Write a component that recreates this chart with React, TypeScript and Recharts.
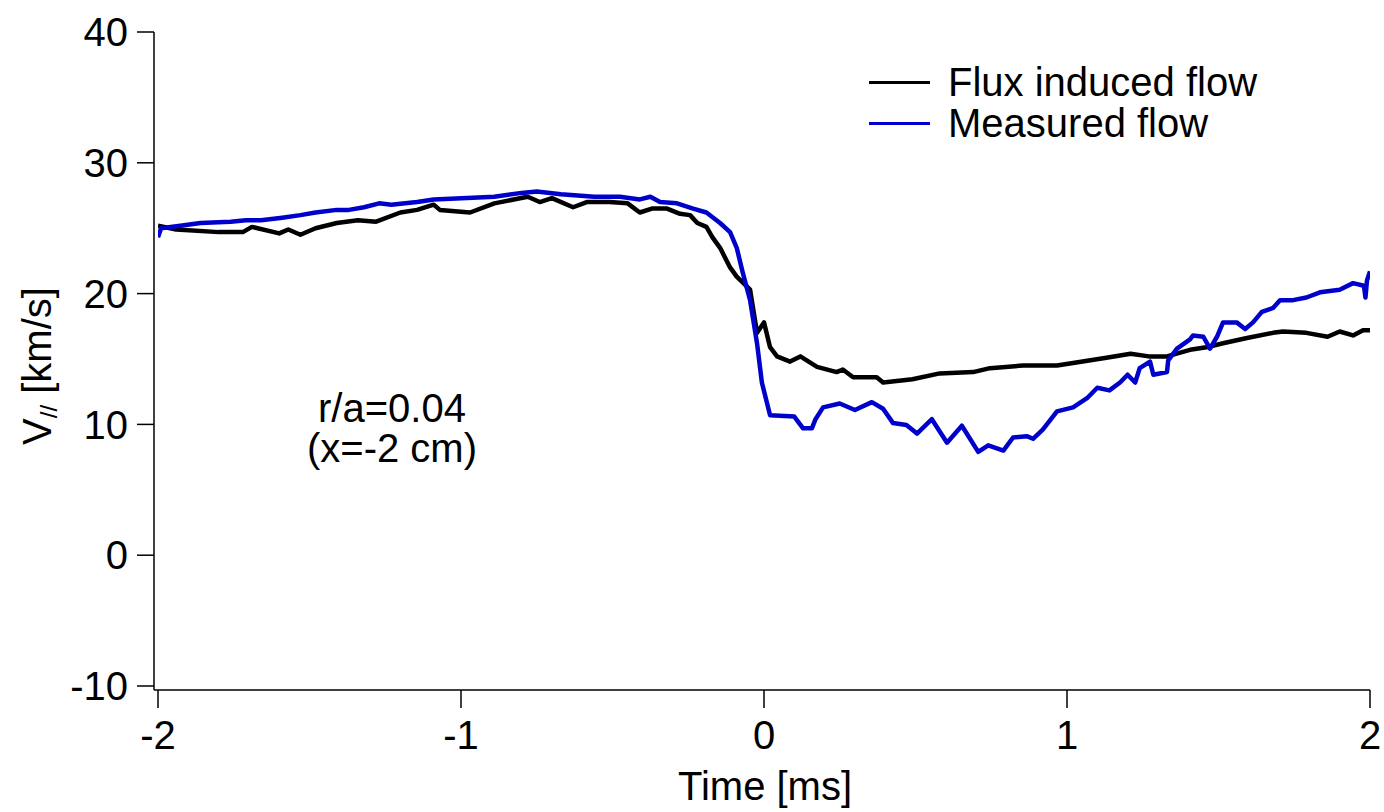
import { LineChart, Line, XAxis, YAxis } from 'recharts';

const FONT = '"Liberation Sans", Arial, Helvetica, sans-serif';

// Flux induced flow (black), time in ms, velocity in km/s
const fluxTime = [
  -2.0, -1.94, -1.8, -1.72, -1.69, -1.6, -1.57, -1.53, -1.48, -1.41, -1.34, -1.28, -1.2, -1.145,
  -1.09, -1.07, -0.97, -0.89, -0.78, -0.74, -0.7, -0.63, -0.585, -0.51, -0.45, -0.41, -0.37,
  -0.32, -0.277, -0.244, -0.22, -0.19, -0.17, -0.145, -0.112, -0.09, -0.046, -0.023, 0.0, 0.02,
  0.043, 0.086, 0.12, 0.175, 0.24, 0.26, 0.294, 0.372, 0.393, 0.49, 0.58, 0.69, 0.746, 0.855,
  0.967, 1.02, 1.13, 1.21, 1.27, 1.33, 1.406, 1.46, 1.515, 1.594, 1.68, 1.713, 1.79, 1.86, 1.9,
  1.944, 1.977, 2.0,
];
const fluxVel = [
  25.2, 24.9, 24.7, 24.7, 25.1, 24.6, 24.9, 24.5, 25.0, 25.4, 25.6, 25.5, 26.2, 26.4,
  26.8, 26.4, 26.2, 26.9, 27.4, 27.0, 27.3, 26.6, 27.0, 27.0, 26.9, 26.2, 26.5,
  26.5, 26.1, 26.0, 25.4, 25.1, 24.3, 23.5, 22.0, 21.3, 20.3, 17.0, 17.8, 15.9,
  15.2, 14.8, 15.2, 14.4, 14.0, 14.2, 13.6, 13.6, 13.2, 13.45, 13.9, 14.0, 14.3, 14.5,
  14.5, 14.7, 15.1, 15.4, 15.2, 15.2, 15.7, 15.9, 16.2, 16.6, 17.0, 17.1, 17.0, 16.7, 17.1,
  16.8, 17.2, 17.2,
];

// Measured flow (blue)
const measTime = [
  -2.0, -1.99, -1.92, -1.86, -1.76, -1.71, -1.66, -1.59, -1.53, -1.48, -1.41, -1.37, -1.32,
  -1.27, -1.23, -1.145, -1.09, -0.98, -0.89, -0.8, -0.75, -0.67, -0.56, -0.475, -0.41, -0.375,
  -0.343, -0.287, -0.234, -0.19, -0.145, -0.112, -0.09, -0.07, -0.046, -0.023, -0.007, 0.02,
  0.1, 0.129, 0.158, 0.17, 0.195, 0.25, 0.3, 0.356, 0.393, 0.426, 0.47, 0.505, 0.554, 0.604,
  0.653, 0.707, 0.74, 0.79, 0.822, 0.867, 0.888, 0.92, 0.967, 1.02, 1.066, 1.1, 1.14, 1.175,
  1.2, 1.225, 1.24, 1.274, 1.285, 1.33, 1.334, 1.363, 1.406, 1.416, 1.45, 1.472, 1.495, 1.515,
  1.56, 1.588, 1.614, 1.643, 1.68, 1.703, 1.746, 1.79, 1.835, 1.9, 1.944, 1.98, 1.985, 1.99, 2.0,
];
const measVel = [
  24.3, 25.0, 25.2, 25.4, 25.5, 25.6, 25.6, 25.8, 26.0, 26.2, 26.4, 26.4, 26.6,
  26.9, 26.8, 27.0, 27.2, 27.3, 27.4, 27.7, 27.8, 27.6, 27.4, 27.4, 27.2, 27.4,
  27.0, 26.9, 26.5, 26.2, 25.4, 24.7, 23.5, 21.6, 19.5, 16.2, 13.2, 10.7,
  10.6, 9.7, 9.7, 10.4, 11.3, 11.6, 11.1, 11.7, 11.2, 10.1, 9.95, 9.3, 10.4, 8.6,
  9.9, 7.9, 8.4, 8.0, 9.0, 9.1, 8.9, 9.6, 11.0, 11.3, 12.0, 12.8, 12.6, 13.2,
  13.8, 13.2, 14.3, 14.8, 13.8, 14.0, 14.9, 15.8, 16.5, 16.8, 16.7, 15.8, 16.7, 17.8,
  17.8, 17.3, 17.8, 18.6, 18.9, 19.5, 19.5, 19.7, 20.1, 20.3, 20.8, 20.6, 19.7, 21.0, 21.7,
];

const xTicks = [-2, -1, 0, 1, 2];
const yTicks = [-10, 0, 10, 20, 30, 40];

const seriesNames = ['Flux induced flow', 'Measured flow'];
const seriesColors = ['#000000', '#0000cc'];

const fluxData = fluxTime.map((t, i) => ({ t, v: fluxVel[i] }));
const measData = measTime.map((t, i) => ({ t, v: measVel[i] }));

const tickStyle = { fontFamily: FONT, fontSize: 40, fill: '#000' };

export default function App() {
  return (
    <div style={{ position: 'absolute', left: 0, top: 0, width: 1384, height: 812, fontFamily: FONT, color: '#000' }}>
      <LineChart width={1384} height={812} margin={{ top: 32, right: 14, left: 94, bottom: 62 }}>
        <XAxis
          type="number"
          dataKey="t"
          domain={[-2, 2]}
          ticks={xTicks}
          allowDataOverflow
          padding={{ left: 4, right: 0 }}
          height={60}
          tickSize={18}
          tickMargin={13}
          tick={tickStyle}
          axisLine={{ stroke: '#000', strokeWidth: 1.5 }}
          tickLine={{ stroke: '#000', strokeWidth: 1.5 }}
        />
        <YAxis
          type="number"
          dataKey="v"
          domain={[-10, 40]}
          ticks={yTicks}
          allowDataOverflow
          padding={{ top: 0, bottom: 4 }}
          width={60}
          tickSize={17}
          tickMargin={9}
          tick={tickStyle}
          axisLine={{ stroke: '#000', strokeWidth: 1.5 }}
          tickLine={{ stroke: '#000', strokeWidth: 1.5 }}
        />
        <Line
          data={fluxData}
          dataKey="v"
          name={seriesNames[0]}
          type="linear"
          stroke={seriesColors[0]}
          strokeWidth={4.5}
          strokeLinejoin="round"
          dot={false}
          isAnimationActive={false}
        />
        <Line
          data={measData}
          dataKey="v"
          name={seriesNames[1]}
          type="linear"
          stroke={seriesColors[1]}
          strokeWidth={4.5}
          strokeLinejoin="round"
          dot={false}
          isAnimationActive={false}
        />
      </LineChart>

      {/* legend */}
      <div style={{ position: 'absolute', left: 869, top: 62, fontSize: 40, lineHeight: '41px' }}>
        {seriesNames.map((name, i) => (
          <div key={name} style={{ display: 'flex', alignItems: 'center', whiteSpace: 'nowrap' }}>
            <span style={{ display: 'inline-block', width: 61, height: 3, background: seriesColors[i], marginRight: 18 }} />
            <span>{name}</span>
          </div>
        ))}
      </div>

      {/* y axis title */}
      <div
        style={{
          position: 'absolute', left: 40, top: 366, fontSize: 40, lineHeight: '40px', whiteSpace: 'nowrap',
          transform: 'translate(-50%, -50%) rotate(-90deg)',
        }}
      >
        V<span style={{ fontSize: 24, position: 'relative', top: 6 }}>//</span> [km/s]
      </div>

      {/* x axis title */}
      <div style={{ position: 'absolute', left: 765, top: 766, fontSize: 40, lineHeight: '40px', whiteSpace: 'nowrap', transform: 'translateX(-50%)' }}>
        Time [ms]
      </div>

      {/* annotation */}
      <div style={{ position: 'absolute', left: 392, top: 388, fontSize: 40, lineHeight: '40px', whiteSpace: 'nowrap', textAlign: 'center', transform: 'translateX(-50%)' }}>
        r/a=0.04<br />(x=-2 cm)
      </div>
    </div>
  );
}
